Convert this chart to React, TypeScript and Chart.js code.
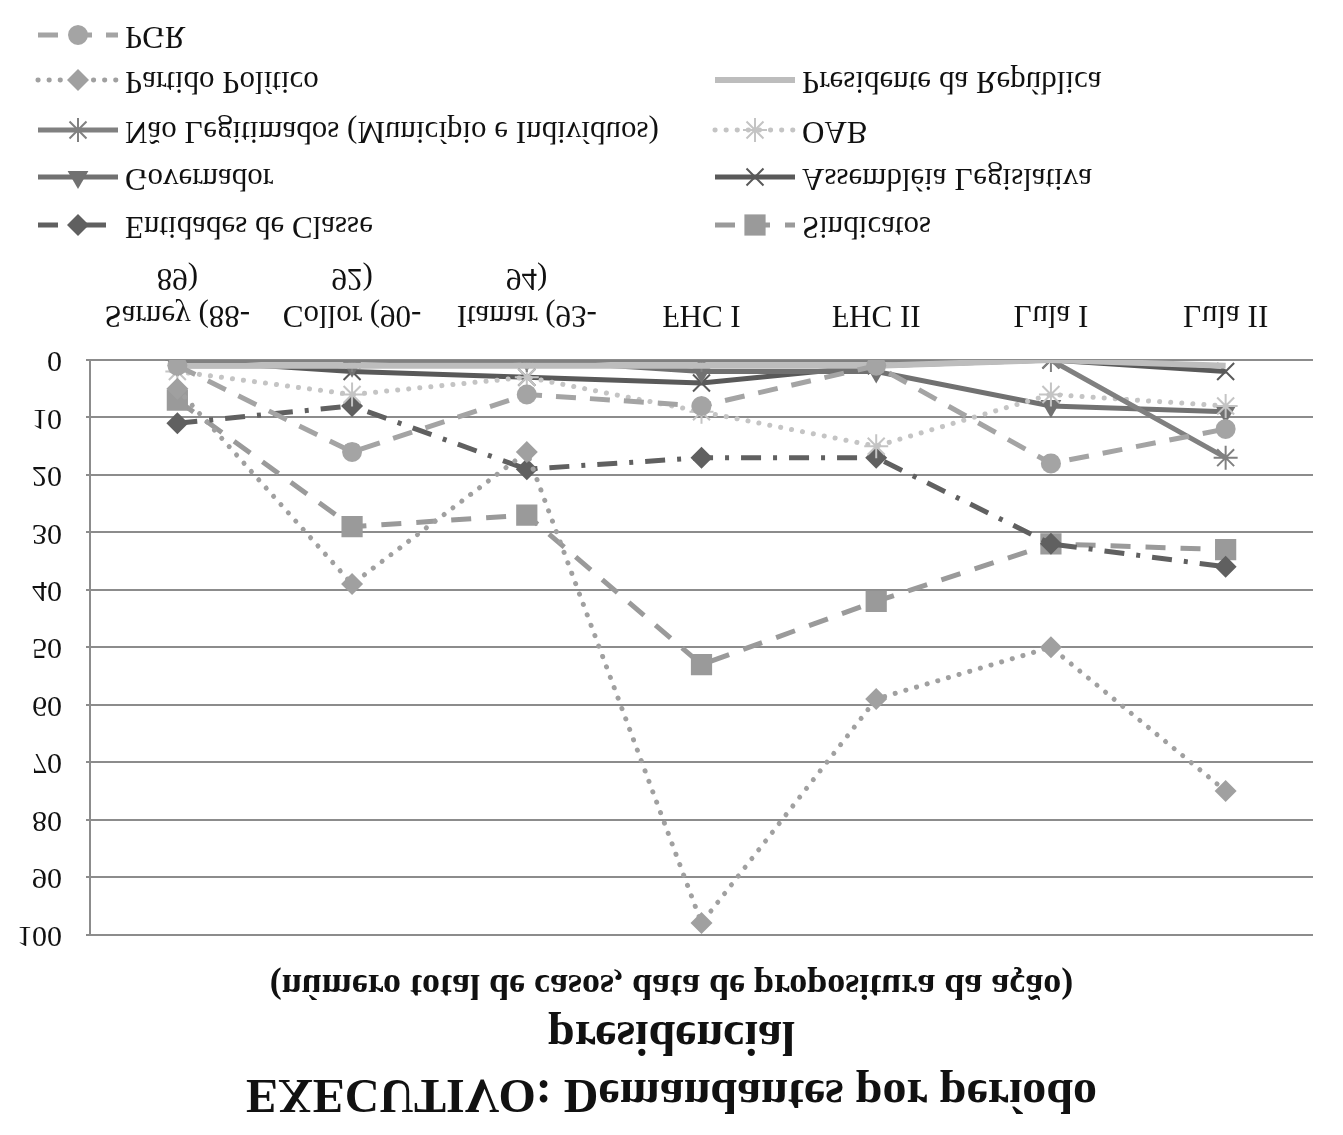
import React, { useEffect, useRef } from 'react';
import { Chart, registerables } from 'chart.js';

Chart.register(...registerables);

// ---- Data ----
const categories: (string | string[])[] = [
  ['Sarney (88-', '89)'],
  ['Collor (90-', '92)'],
  ['Itamar (93-', '94)'],
  'FHC I',
  'FHC II',
  'Lula I',
  'Lula II',
];

const seriesNames = [
  'PGR',
  'Partido Político',
  'Presidente da República',
  'Não Legitimados (Município e Indivíduos)',
  'OAB',
  'Governador',
  'Assembléia Legislativa',
  'Entidades de Classe',
  'Sindicatos',
];

const pgr = [1, 16, 6, 8, 1, 18, 12];
const partidoPolitico = [5, 39, 16, 98, 59, 50, 75];
const presidente = [1, 1, 1, 1, 1, 0, 1];
const naoLegitimados = [0, 0, 0, 0, 0, 0, 17];
const oab = [2, 6, 3, 9, 15, 6, 8];
const governador = [1, 1, 0, 2, 2, 8, 9];
const assembleia = [0, 2, 3, 4, 1, 0, 2];
const entidades = [11, 8, 19, 17, 17, 32, 36];
const sindicatos = [7, 29, 27, 53, 42, 32, 33];

const titleLines = ['EXECUTIVO: Demandantes por período', 'presidencial'];
const subtitleText = '(número total de casos, data de propositura da ação)';

// ---- Styles ----
const FONT = '"Liberation Serif", "Times New Roman", serif';

type SeriesStyle = {
  color: string;
  dash: number[];
  cap: CanvasLineCap;
  width: number;
  marker: string | false;
  radius: number;
};

const styles: SeriesStyle[] = [
  { color: '#a4a4a4', dash: [20, 14], cap: 'butt', width: 5, marker: 'circle', radius: 10 },
  { color: '#a0a0a0', dash: [0.1, 11], cap: 'round', width: 5, marker: 'rectRot', radius: 11 },
  { color: '#bdbdbd', dash: [], cap: 'butt', width: 6, marker: false, radius: 0 },
  { color: '#808080', dash: [], cap: 'butt', width: 5, marker: 'star', radius: 12 },
  { color: '#c4c4c4', dash: [0.1, 11], cap: 'round', width: 5, marker: 'star', radius: 12 },
  { color: '#717171', dash: [], cap: 'butt', width: 5, marker: 'triangle', radius: 12 },
  { color: '#595959', dash: [], cap: 'butt', width: 5, marker: 'crossRot', radius: 12 },
  { color: '#606060', dash: [20, 12, 4, 12], cap: 'butt', width: 5, marker: 'rectRot', radius: 11 },
  { color: '#9a9a9a', dash: [20, 15], cap: 'butt', width: 5, marker: 'rect', radius: 15 },
];

const seriesValues = [
  pgr,
  partidoPolitico,
  presidente,
  naoLegitimados,
  oab,
  governador,
  assembleia,
  entidades,
  sindicatos,
];

// legend slot positions (canvas coordinates before the vertical flip)
const legendSlots = [
  { x: 38, y: 1100 },
  { x: 38, y: 1055 },
  { x: 715, y: 1055 },
  { x: 38, y: 1005 },
  { x: 715, y: 1005 },
  { x: 38, y: 958 },
  { x: 715, y: 958 },
  { x: 38, y: 910 },
  { x: 715, y: 910 },
];

function drawMarker(
  ctx: CanvasRenderingContext2D,
  style: string,
  x: number,
  y: number,
  r: number,
  color: string
) {
  ctx.save();
  ctx.setLineDash([]);
  ctx.fillStyle = color;
  ctx.strokeStyle = color;
  ctx.lineWidth = 2;
  ctx.beginPath();
  if (style === 'circle') {
    ctx.arc(x, y, r, 0, Math.PI * 2);
    ctx.fill();
  } else if (style === 'rect') {
    const s = r * Math.SQRT1_2;
    ctx.rect(x - s, y - s, 2 * s, 2 * s);
    ctx.fill();
  } else if (style === 'rectRot') {
    ctx.moveTo(x, y - r);
    ctx.lineTo(x + r, y);
    ctx.lineTo(x, y + r);
    ctx.lineTo(x - r, y);
    ctx.closePath();
    ctx.fill();
  } else if (style === 'triangle') {
    let a = 0;
    ctx.moveTo(x + Math.sin(a) * r, y - Math.cos(a) * r);
    a += (2 * Math.PI) / 3;
    ctx.lineTo(x + Math.sin(a) * r, y - Math.cos(a) * r);
    a += (2 * Math.PI) / 3;
    ctx.lineTo(x + Math.sin(a) * r, y - Math.cos(a) * r);
    ctx.closePath();
    ctx.fill();
  } else if (style === 'star' || style === 'crossRot') {
    const d = r * Math.SQRT1_2;
    ctx.moveTo(x - d, y - d);
    ctx.lineTo(x + d, y + d);
    ctx.moveTo(x - d, y + d);
    ctx.lineTo(x + d, y - d);
    if (style === 'star') {
      ctx.moveTo(x, y - r);
      ctx.lineTo(x, y + r);
      ctx.moveTo(x - r, y);
      ctx.lineTo(x + r, y);
    }
    ctx.stroke();
  }
  ctx.restore();
}

const legendPlugin = {
  id: 'gridLegend',
  afterDraw(chart: any) {
    const ctx: CanvasRenderingContext2D = chart.ctx;
    seriesNames.forEach((name, i) => {
      const slot = legendSlots[i];
      const st = styles[i];
      const x1 = slot.x;
      const x2 = slot.x + 80;
      ctx.save();
      ctx.strokeStyle = st.color;
      ctx.lineWidth = st.width;
      ctx.lineCap = st.cap;
      ctx.setLineDash(st.dash);
      ctx.beginPath();
      ctx.moveTo(x1, slot.y);
      ctx.lineTo(x2, slot.y);
      ctx.stroke();
      ctx.restore();
      if (st.marker) drawMarker(ctx, st.marker, x1 + 40, slot.y, st.radius, st.color);
      ctx.save();
      ctx.fillStyle = '#111';
      ctx.font = `31px ${FONT}`;
      ctx.textAlign = 'left';
      ctx.textBaseline = 'middle';
      ctx.fillText(name, x2 + 7, slot.y);
      ctx.restore();
    });
  },
};

export default function App() {
  const canvasRef = useRef<HTMLCanvasElement | null>(null);

  useEffect(() => {
    const canvas = canvasRef.current;
    if (!canvas) return;
    const datasets = seriesNames.map((name, i) => {
      const st = styles[i];
      return {
        label: name,
        data: seriesValues[i],
        borderColor: st.color,
        backgroundColor: st.color,
        borderWidth: st.width,
        borderDash: st.dash,
        borderCapStyle: st.cap,
        fill: false,
        tension: 0,
        pointStyle: st.marker || 'circle',
        pointRadius: st.radius,
        pointBackgroundColor: st.color,
        pointBorderColor: st.color,
        pointBorderWidth: st.marker === 'star' || st.marker === 'crossRot' ? 2 : 0,
      };
    });

    const chart = new Chart(canvas, {
      type: 'line',
      data: { labels: categories as any, datasets: datasets as any },
      options: {
        responsive: false,
        animation: false,
        devicePixelRatio: 1,
        layout: { padding: { left: 0, right: 0, top: 0, bottom: 260 } },
        plugins: {
          legend: { display: false },
          tooltip: { enabled: false },
          title: {
            display: true,
            text: titleLines,
            color: '#111',
            font: { family: FONT, size: 48, weight: 'bold', lineHeight: 1.2 },
            padding: { top: 14, bottom: 0 },
          },
          subtitle: {
            display: true,
            text: subtitleText,
            color: '#111',
            font: { family: FONT, size: 36, weight: 'bold', lineHeight: 1.2 },
            padding: { top: 0, bottom: 28 },
          },
        },
        scales: {
          x: {
            offset: true,
            grid: { display: false, drawTicks: false },
            border: { display: false },
            ticks: {
              color: '#111',
              font: { family: FONT, size: 31, lineHeight: 1.2 },
              padding: 27,
              maxRotation: 0,
              autoSkip: false,
            },
            afterFit: (s: any) => {
              s.height = 100;
            },
          },
          y: {
            min: 0,
            max: 100,
            ticks: {
              stepSize: 10,
              color: '#111',
              font: { family: FONT, size: 30, lineHeight: 1.2 },
              padding: 24,
            },
            grid: { color: '#8c8c8c', lineWidth: 2, tickLength: 4 },
            border: { color: '#8c8c8c', width: 2 },
            afterFit: (s: any) => {
              s.width = 90;
            },
          },
          yRight: {
            position: 'right',
            min: 0,
            max: 100,
            ticks: { display: false },
            grid: { display: false, drawTicks: false },
            border: { display: false },
            afterFit: (s: any) => {
              s.width = 30;
            },
          },
        },
      },
      plugins: [legendPlugin],
    });
    return () => chart.destroy();
  }, []);

  return (
    <div
      style={{
        position: 'absolute',
        left: 0,
        top: 0,
        width: 1343,
        height: 1135,
        background: '#fff',
        overflow: 'hidden',
      }}
    >
      <canvas
        ref={canvasRef}
        width={1343}
        height={1135}
        style={{ display: 'block', width: 1343, height: 1135, transform: 'scaleY(-1)' }}
      />
    </div>
  );
}
